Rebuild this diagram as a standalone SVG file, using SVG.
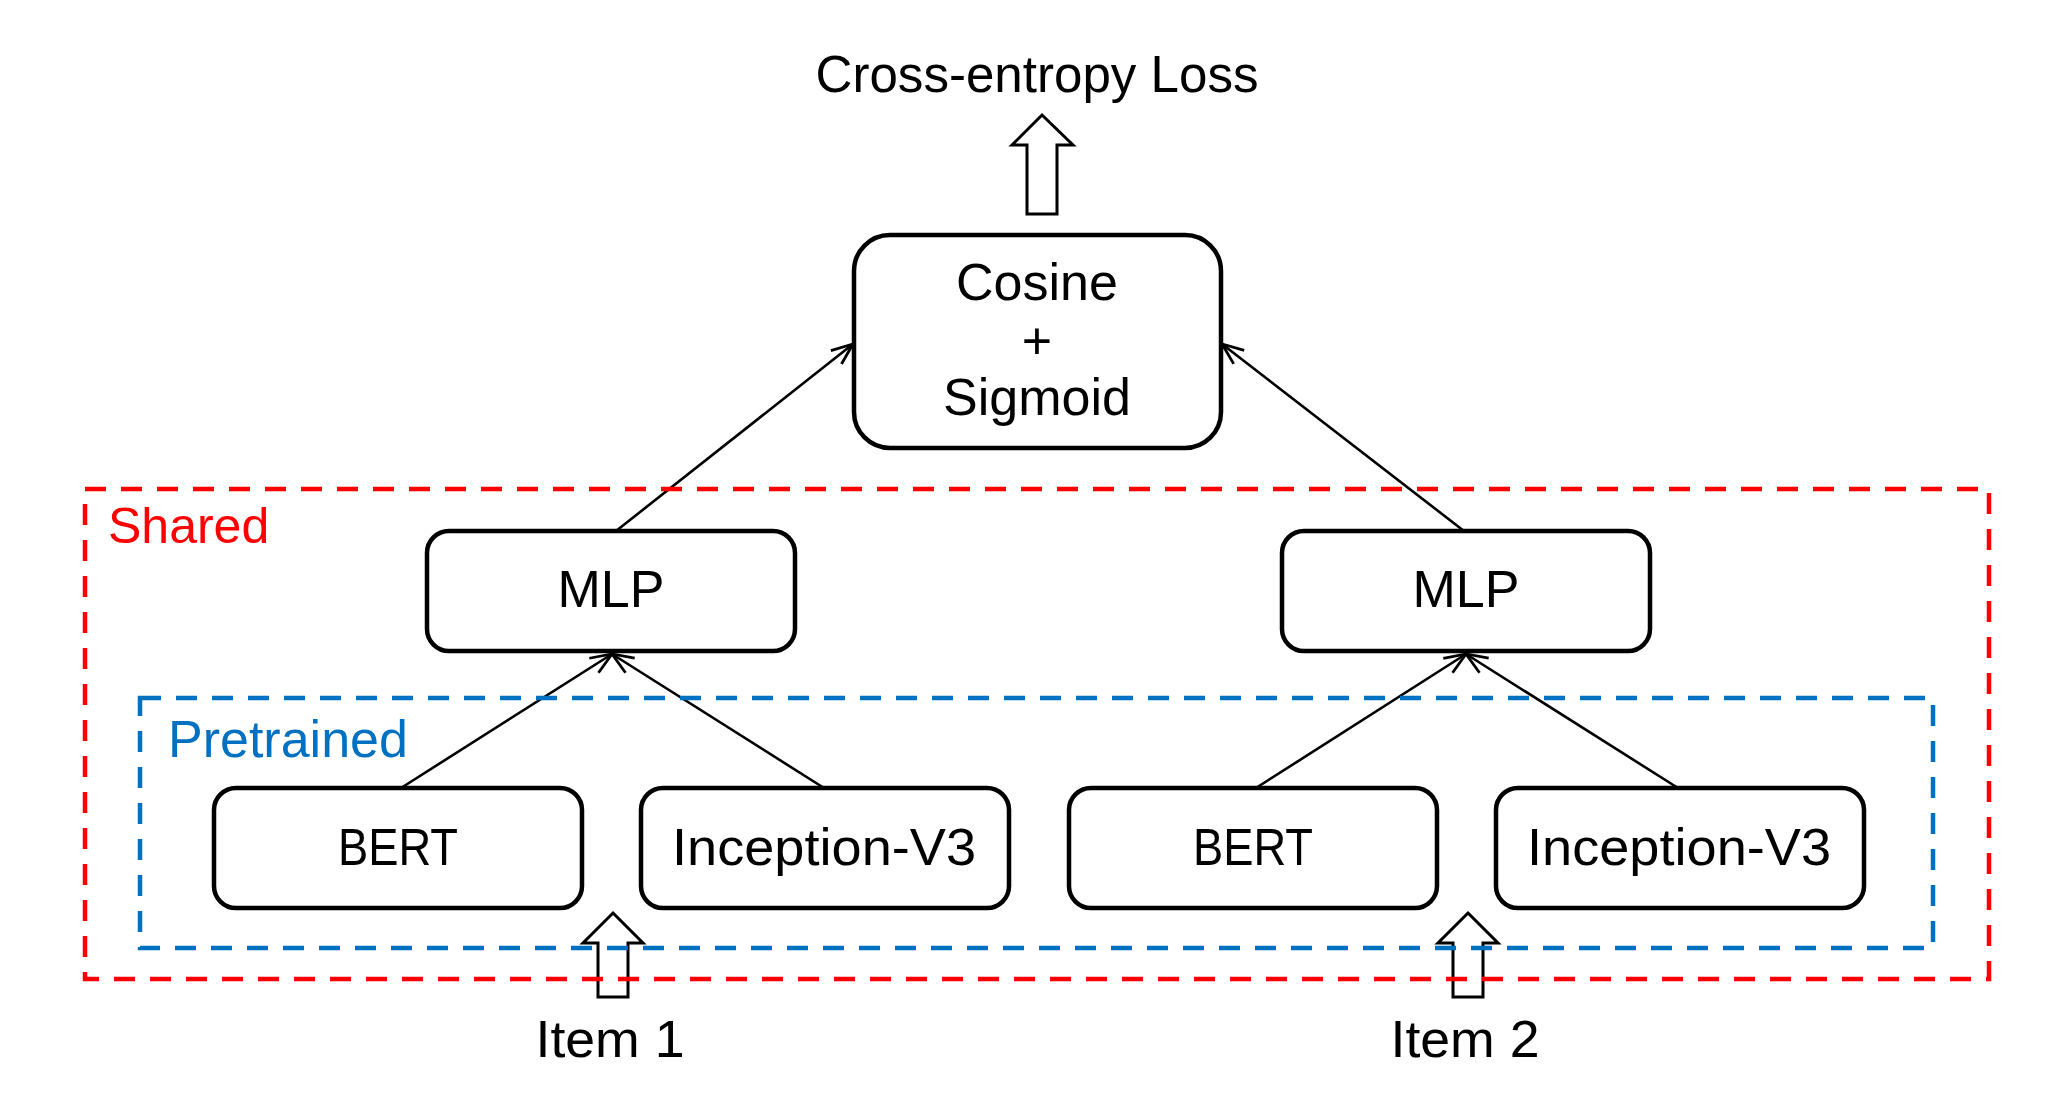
<svg xmlns="http://www.w3.org/2000/svg" width="2072" height="1106" viewBox="0 0 2072 1106">
<style>
text{font-family:"Liberation Sans",Arial,sans-serif;font-size:52px;fill:#000;text-anchor:middle}
.box{fill:#fff;stroke:#000;stroke-width:4.5}
.conn{stroke:#000;stroke-width:2.6;fill:none}
.block{fill:none;stroke:#000;stroke-width:3;stroke-linejoin:miter}
.dash{fill:none;stroke-width:4.5;stroke-dasharray:21 15}
</style>
<defs>
<marker id="arr" markerUnits="userSpaceOnUse" markerWidth="30" markerHeight="30" viewBox="-24 -12 28 24" refX="0" refY="0" orient="auto">
<path d="M-20,-8 L0,0 L-20,8" fill="none" stroke="#000" stroke-width="2.6"/>
</marker>
</defs>
<rect width="2072" height="1106" fill="#fff"/>

<g id="loss">
<text x="1037" y="92" textLength="443" lengthAdjust="spacingAndGlyphs">Cross-entropy Loss</text>
<polygon class="block" points="1042,115 1073,145 1057,145 1057,214 1027,214 1027,145 1012,145"/>
</g>

<g id="cosine">
<rect class="box" x="854" y="235" width="367" height="213" rx="36"/>
<text x="1037" y="300">Cosine</text>
<text x="1037" y="359">+</text>
<text x="1037" y="415">Sigmoid</text>
</g>

<g id="mlp1">
<rect class="box" x="427" y="531" width="368" height="120" rx="22"/>
<text x="611" y="607">MLP</text>
</g>
<g id="mlp2">
<rect class="box" x="1282" y="531" width="368" height="120" rx="22"/>
<text x="1466" y="607">MLP</text>
</g>

<g id="bert1">
<rect class="box" x="214" y="788" width="368" height="120" rx="22"/>
<text x="398" y="865" textLength="120" lengthAdjust="spacingAndGlyphs">BERT</text>
</g>
<g id="inception1">
<rect class="box" x="641" y="788" width="368" height="120" rx="22"/>
<text x="824" y="865" textLength="304" lengthAdjust="spacingAndGlyphs">Inception-V3</text>
</g>
<g id="bert2">
<rect class="box" x="1069" y="788" width="368" height="120" rx="22"/>
<text x="1253" y="865" textLength="120" lengthAdjust="spacingAndGlyphs">BERT</text>
</g>
<g id="inception2">
<rect class="box" x="1496" y="788" width="368" height="120" rx="22"/>
<text x="1679" y="865" textLength="304" lengthAdjust="spacingAndGlyphs">Inception-V3</text>
</g>

<g id="item1">
<polygon class="block" points="613,913 643,943 628,943 628,997 598,997 598,943 583,943"/>
<text x="610" y="1057" textLength="149" lengthAdjust="spacingAndGlyphs">Item 1</text>
</g>
<g id="item2">
<polygon class="block" points="1468,913 1498,943 1483,943 1483,997 1453,997 1453,943 1438,943"/>
<text x="1465" y="1057" textLength="149" lengthAdjust="spacingAndGlyphs">Item 2</text>
</g>

<g id="connectors">
<line class="conn" x1="401" y1="788" x2="612" y2="654" marker-end="url(#arr)"/>
<line class="conn" x1="824" y1="788" x2="612" y2="654" marker-end="url(#arr)"/>
<line class="conn" x1="1256" y1="788" x2="1466" y2="654" marker-end="url(#arr)"/>
<line class="conn" x1="1678" y1="788" x2="1466" y2="654" marker-end="url(#arr)"/>
<line class="conn" x1="616" y1="531" x2="853" y2="344" marker-end="url(#arr)"/>
<line class="conn" x1="1464" y1="531" x2="1222" y2="344" marker-end="url(#arr)"/>
</g>

<g id="shared">
<rect class="dash" x="85" y="489" width="1904" height="490" stroke="#FF0000"/>
<text x="108" y="543" style="fill:#FF0000;text-anchor:start;font-size:50px">Shared</text>
</g>
<g id="pretrained">
<rect class="dash" x="140" y="698" width="1793" height="250" stroke="#0070C0"/>
<text x="168" y="757" style="fill:#0070C0;text-anchor:start">Pretrained</text>
</g>
</svg>
